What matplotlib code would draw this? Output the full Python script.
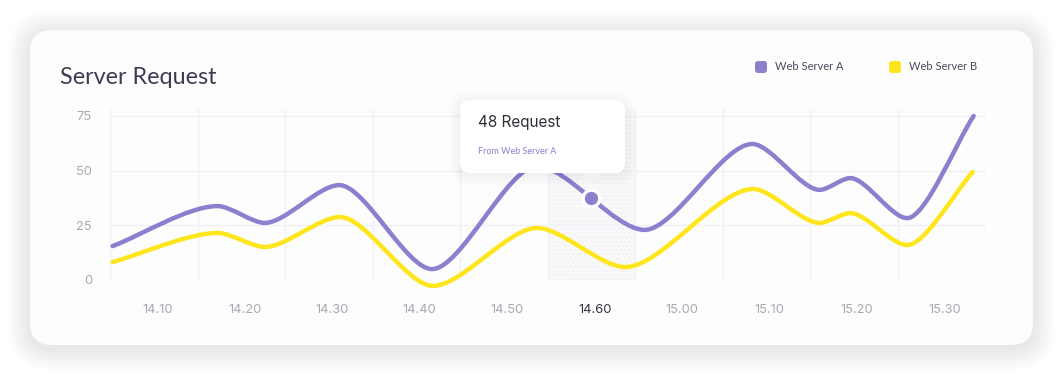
import numpy as np
import matplotlib.pyplot as plt
from matplotlib.patches import FancyBboxPatch, Polygon, PathPatch
from matplotlib.path import Path

# data (x in axis units: one unit per time slot, slots start at 0)
tick_labels = ["14.10", "14.20", "14.30", "14.40", "14.50", "14.60",
               "15.00", "15.10", "15.20", "15.30"]
y_ticks = [0, 25, 50, 75]

a_x = [0.03, 1.23, 1.77, 2.62, 3.68, 4.88, 6.11, 7.34, 8.11, 8.46, 9.11, 9.87]
a_y = [15.5, 33.8, 26.1, 43.4, 5.0, 52.1, 22.9, 62.2, 41.2, 46.6, 28.3, 75.0]

b_x = [0.03, 1.23, 1.77, 2.63, 3.69, 4.88, 5.89, 7.35, 8.11, 8.46, 9.11, 9.86]
b_y = [8.2, 21.5, 15.1, 28.8, -2.7, 23.8, 5.9, 41.6, 26.1, 30.6, 16.0, 49.4]

hover_x, hover_y = 5.50, 37.5
hover_slot = 5
tooltip_title = "48 Request"
tooltip_sub = "From Web Server A"

purple = "#8b7fce"
yellow = "#ffe61c"

W, H = 1064, 376
fig = plt.figure(figsize=(W / 100, H / 100), dpi=100)
fig.patch.set_facecolor("white")


def rbox(axis, x0, y0, x1, y1, r, **kw):
    p = FancyBboxPatch((x0 + r, y0 + r), x1 - x0 - 2 * r, y1 - y0 - 2 * r,
                       boxstyle=f"round,pad={r},rounding_size={r}", **kw)
    axis.add_patch(p)


# card with soft shadow
bg = fig.add_axes([0, 0, 1, 1], zorder=0)
bg.set_xlim(0, W)
bg.set_ylim(H, 0)
bg.axis("off")
for i in range(1, 24):
    rbox(bg, 30 - i, 33 - i, 1033 + i, 348 + i, 22 + i,
         fc=(0.35, 0.35, 0.45), ec="none", alpha=0.0022)
rbox(bg, 30, 30, 1033, 345, 22, fc="#fdfdfe", ec="none")

# main chart
ax = fig.add_axes([110 / W, 1 - 280 / H, 875 / W, 171 / H], zorder=1)
ax.set_facecolor("none")
ax.set_xlim(0, 10)
ax.set_ylim(0, 171 / 2.187)
for s in ax.spines.values():
    s.set_visible(False)

ax.set_xticks(np.arange(len(tick_labels)) + 0.54)
ax.set_xticklabels(tick_labels)
ax.set_xticks(np.arange(0, 11), minor=True)
ax.set_yticks(y_ticks)
ax.tick_params(which="both", length=0)
ax.tick_params(axis="x", pad=17, labelsize=9.3, labelcolor="#a9a9b2")
ax.tick_params(axis="y", pad=13, labelsize=9.3, labelcolor="#a9a9b2")
for lab in ax.get_xticklabels() + ax.get_yticklabels():
    lab.set_family(["Inter", "DejaVu Sans"])
ax.get_xticklabels()[hover_slot].set_color("#34343f")
ax.grid(which="minor", axis="x", color="#f0f0f5", lw=1)
ax.grid(which="major", axis="y", color="#f0f0f5", lw=1)
ax.set_axisbelow(True)

ax.axvspan(hover_slot, hover_slot + 1, fc="#f9f9fb", ec="#f2f2f5",
           hatch="....", lw=0, zorder=0.5)


def smooth_path(xs, ys, k=0.28):
    verts = [(xs[0], ys[0])]
    codes = [Path.MOVETO]
    n = len(xs)
    for i in range(n - 1):
        x0, y0, x1, y1 = xs[i], ys[i], xs[i + 1], ys[i + 1]
        dx, dy = x1 - x0, y1 - y0
        c1 = (x0 + k * dx, y0 + k * dy) if i == 0 else (x0 + k * dx, y0)
        c2 = (x1 - k * dx, y1 - k * dy) if i == n - 2 else (x1 - k * dx, y1)
        verts += [c1, c2, (x1, y1)]
        codes += [Path.CURVE4] * 3
    return Path(verts, codes)


for xs, ys, c in [(b_x, b_y, yellow), (a_x, a_y, purple)]:
    ax.add_patch(PathPatch(smooth_path(xs, ys), fc="none", ec=c, lw=3.2,
                           capstyle="round", joinstyle="round",
                           clip_on=False, zorder=3))

ax.plot([hover_x], [hover_y], "o", ms=12, mfc=purple, mec="white", mew=2.4,
        zorder=5, clip_on=False)

# overlay: tooltip, title, legend
ov = fig.add_axes([0, 0, 1, 1], zorder=2)
ov.set_xlim(0, W)
ov.set_ylim(H, 0)
ov.axis("off")
ov.set_facecolor("none")
for i in range(1, 12):
    rbox(ov, 460 - i, 102 - i, 625 + i, 175 + i, 10 + i,
         fc=(0.4, 0.4, 0.55), ec="none", alpha=0.0028)
ov.add_patch(Polygon([(581, 172), (603, 172), (592, 184)], closed=True,
                     fc="#f2f2f5", ec="none"))
rbox(ov, 460, 100, 625, 173, 10, fc="white", ec="none")
ov.text(478, 123, tooltip_title, fontsize=11, color="#2f2f3a",
        family=["Inter", "DejaVu Sans"], va="center", ha="left")
ov.text(478, 152, tooltip_sub, fontsize=6.5, color="#8b80cf",
        family=["Lato", "DejaVu Sans"], va="center", ha="left")

ov.text(60, 77, "Server Request", fontsize=16.8, color="#3e3c52",
        family=["Lato", "DejaVu Sans"], va="center", ha="left")

for x0, c, name in [(755, purple, "Web Server A"), (889, yellow, "Web Server B")]:
    rbox(ov, x0, 61, x0 + 12, 73, 3, fc=c, ec="none")
    ov.text(x0 + 20, 67, name, fontsize=8, color="#4b4a5c",
            family=["Lato", "DejaVu Sans"], va="center", ha="left")

fig.savefig("out.png", dpi=100, facecolor="white")
